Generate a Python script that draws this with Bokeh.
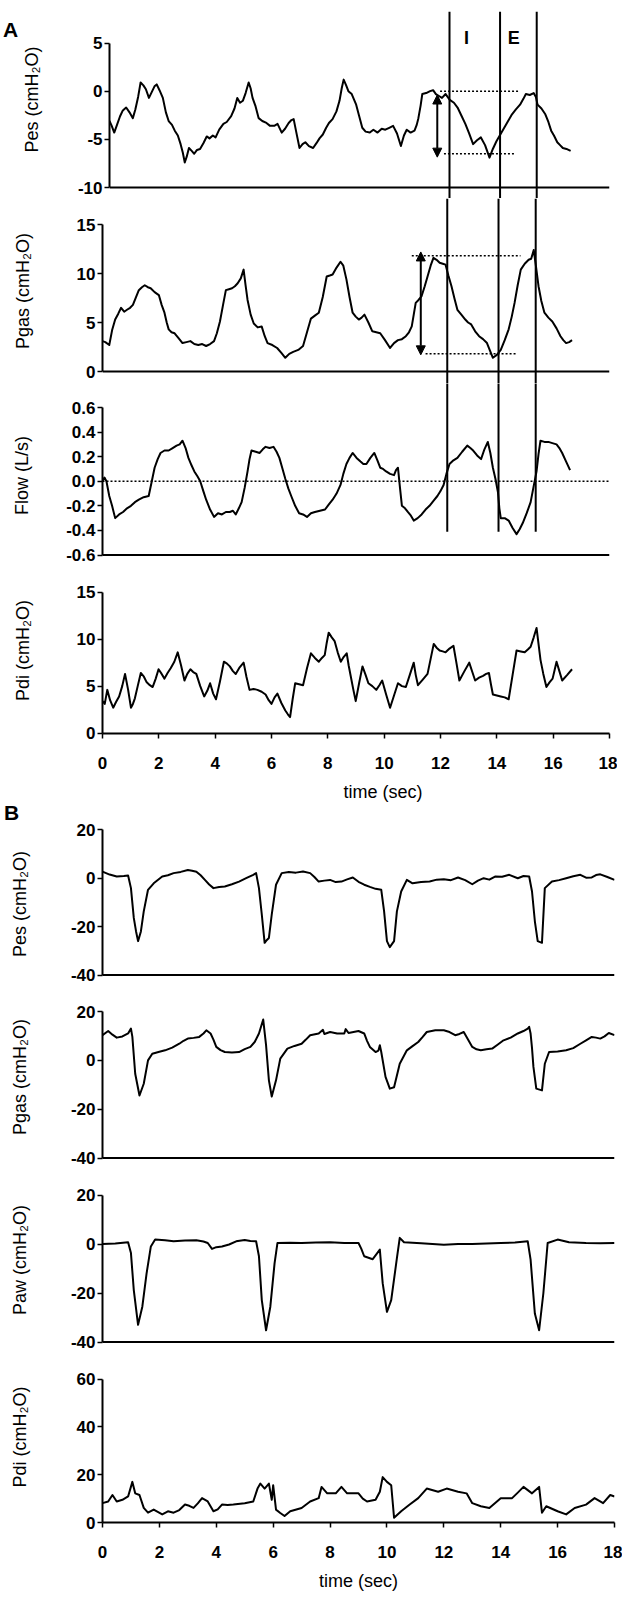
from bokeh.plotting import figure
from bokeh.layouts import column, row
from bokeh.models import Range1d, Span, Arrow, NormalHead, FixedTicker, PrintfTickFormatter, Div, Label
from bokeh.embed import file_html
from bokeh.resources import INLINE

# ---------------- data (time in s, value) ----------------
A_PES = [(0.00,-3.1),(0.08,-3.6),(0.17,-4.3),(0.27,-3.5),(0.38,-2.6),(0.48,-2.0),(0.60,-1.7),(0.72,-2.2),(0.84,-2.8),(0.93,-1.9),(1.03,-0.6),(1.12,0.9),(1.22,0.6),(1.31,0.2),(1.42,-0.7),(1.52,-0.1),(1.62,0.5),(1.70,0.7),(1.80,0.1),(1.92,-0.7),(2.03,-2.2),(2.13,-3.1),(2.25,-3.5),(2.35,-4.1),(2.46,-4.6),(2.56,-5.5),(2.64,-6.4),(2.71,-7.4),(2.78,-6.8),(2.86,-5.9),(2.96,-6.2),(3.05,-6.5),(3.15,-6.1),(3.26,-6.0),(3.38,-5.4),(3.50,-4.7),(3.60,-4.9),(3.72,-4.6),(3.82,-4.8),(3.95,-4.0),(4.10,-3.4),(4.22,-3.2),(4.38,-2.6),(4.50,-1.8),(4.60,-0.7),(4.70,-1.2),(4.80,-1.0),(4.90,-0.2),(5.01,0.9),(5.08,0.3),(5.15,-0.7),(5.25,-1.5),(5.37,-2.8),(5.50,-3.1),(5.65,-3.3),(5.78,-3.6),(5.93,-3.6),(6.05,-3.4),(6.20,-4.3),(6.32,-3.9),(6.45,-3.3),(6.55,-3.0),(6.63,-2.9),(6.72,-4.2),(6.84,-5.9),(6.95,-5.5),(7.05,-5.3),(7.18,-5.7),(7.33,-5.9),(7.45,-5.4),(7.56,-4.9),(7.68,-4.5),(7.80,-3.8),(7.90,-3.3),(8.03,-2.9),(8.17,-2.1),(8.28,-1.0),(8.36,0.3),(8.43,1.2),(8.52,0.6),(8.60,0.0),(8.72,-0.3),(8.88,-1.4),(8.98,-2.5),(9.10,-3.8),(9.22,-4.2),(9.37,-4.3),(9.50,-4.0),(9.65,-4.3),(9.80,-3.9),(9.93,-4.0),(10.07,-3.8),(10.21,-3.6),(10.35,-4.4),(10.49,-5.7),(10.60,-4.6),(10.70,-4.0),(10.84,-4.3),(10.98,-4.1),(11.06,-3.5),(11.12,-2.8),(11.20,-1.5),(11.26,-0.3),(11.40,-0.2),(11.54,0.0),(11.65,0.1),(11.75,-0.3),(11.86,-0.5),(11.97,-0.7),(12.10,-0.3),(12.25,-0.9),(12.40,-1.2),(12.53,-1.7),(12.68,-2.6),(12.81,-3.4),(12.95,-4.4),(13.09,-5.5),(13.23,-5.1),(13.37,-4.8),(13.52,-5.6),(13.68,-6.9),(13.80,-6.0),(13.93,-5.2),(14.07,-4.5),(14.21,-3.8),(14.35,-3.1),(14.49,-2.4),(14.63,-1.9),(14.78,-1.4),(14.90,-0.8),(14.99,-0.3),(15.13,-0.4),(15.27,-0.2),(15.35,-0.6),(15.41,-1.4),(15.55,-1.8),(15.69,-2.4),(15.80,-3.2),(15.90,-4.1),(16.00,-4.6),(16.12,-5.3),(16.22,-5.6),(16.32,-5.9),(16.45,-6.0),(16.60,-6.2)]

A_PGAS = [(0.00,3.1),(0.10,3.0),(0.24,2.7),(0.34,4.2),(0.45,5.3),(0.56,5.9),(0.66,6.5),(0.77,6.1),(0.87,6.3),(0.98,6.5),(1.08,6.8),(1.19,7.6),(1.29,8.3),(1.40,8.6),(1.50,8.8),(1.61,8.6),(1.71,8.5),(1.85,8.1),(2.00,7.8),(2.10,6.8),(2.20,6.0),(2.28,5.0),(2.35,4.3),(2.45,4.0),(2.56,3.9),(2.70,3.4),(2.84,2.9),(2.98,3.0),(3.12,3.1),(3.26,2.8),(3.40,2.7),(3.54,2.8),(3.68,2.6),(3.82,2.8),(3.96,3.1),(4.06,3.9),(4.17,5.1),(4.28,6.8),(4.38,8.3),(4.49,8.4),(4.60,8.5),(4.70,8.7),(4.80,9.0),(4.91,9.5),(5.01,10.4),(5.08,8.8),(5.15,7.3),(5.26,5.8),(5.37,4.9),(5.51,4.5),(5.65,4.6),(5.76,3.6),(5.86,2.9),(6.03,2.7),(6.20,2.4),(6.35,1.9),(6.49,1.4),(6.63,1.8),(6.77,2.0),(6.95,2.2),(7.12,2.6),(7.26,4.0),(7.40,5.4),(7.54,5.7),(7.68,6.0),(7.82,7.6),(7.96,9.7),(8.07,9.8),(8.17,9.9),(8.31,10.6),(8.45,11.2),(8.55,10.8),(8.66,9.4),(8.77,7.6),(8.88,6.0),(8.99,5.6),(9.10,5.3),(9.20,5.5),(9.30,5.8),(9.44,5.0),(9.58,4.1),(9.72,4.0),(9.86,3.9),(10.03,3.2),(10.21,2.4),(10.35,2.9),(10.49,3.2),(10.63,3.3),(10.77,3.6),(10.88,4.0),(10.98,4.6),(11.05,5.8),(11.12,7.0),(11.22,7.3),(11.33,7.7),(11.44,8.7),(11.54,9.7),(11.65,10.8),(11.75,11.6),(11.86,11.4),(11.97,11.1),(12.08,11.0),(12.18,10.9),(12.28,9.8),(12.39,8.7),(12.50,7.4),(12.60,6.3),(12.74,5.8),(12.88,5.3),(12.98,5.0),(13.09,4.8),(13.23,4.1),(13.37,3.6),(13.51,3.3),(13.65,2.9),(13.76,2.1),(13.86,1.4),(14.00,1.7),(14.14,2.2),(14.28,3.2),(14.42,4.3),(14.53,5.6),(14.63,7.0),(14.74,8.8),(14.85,10.4),(14.99,11.0),(15.13,11.4),(15.22,11.5),(15.31,12.4),(15.40,10.5),(15.48,8.7),(15.58,7.2),(15.69,6.0),(15.83,5.5),(15.97,5.1),(16.12,4.4),(16.26,3.6),(16.36,3.2),(16.46,2.9),(16.57,3.0),(16.67,3.2)]

A_FLOW = [(0.00,0.00),(0.07,0.03),(0.14,0.00),(0.24,-0.12),(0.34,-0.20),(0.45,-0.30),(0.59,-0.27),(0.73,-0.25),(0.87,-0.22),(1.01,-0.20),(1.15,-0.17),(1.29,-0.15),(1.46,-0.13),(1.64,-0.12),(1.75,0.00),(1.85,0.11),(1.96,0.18),(2.06,0.23),(2.20,0.25),(2.35,0.25),(2.49,0.27),(2.63,0.29),(2.74,0.30),(2.84,0.33),(2.95,0.27),(3.05,0.19),(3.16,0.13),(3.26,0.08),(3.37,0.04),(3.47,0.00),(3.58,-0.08),(3.68,-0.15),(3.82,-0.23),(3.96,-0.29),(4.10,-0.26),(4.24,-0.27),(4.38,-0.25),(4.52,-0.25),(4.63,-0.24),(4.73,-0.27),(4.84,-0.22),(4.94,-0.17),(5.05,-0.05),(5.15,0.08),(5.22,0.18),(5.29,0.25),(5.44,0.24),(5.58,0.23),(5.69,0.26),(5.79,0.28),(5.93,0.27),(6.07,0.28),(6.18,0.24),(6.28,0.19),(6.38,0.11),(6.49,0.02),(6.60,-0.06),(6.70,-0.12),(6.84,-0.20),(6.98,-0.26),(7.12,-0.27),(7.26,-0.29),(7.40,-0.26),(7.54,-0.25),(7.72,-0.24),(7.90,-0.23),(8.03,-0.19),(8.17,-0.15),(8.31,-0.10),(8.45,-0.03),(8.55,0.06),(8.66,0.14),(8.77,0.19),(8.88,0.23),(9.02,0.19),(9.16,0.16),(9.26,0.14),(9.37,0.14),(9.51,0.19),(9.65,0.23),(9.76,0.17),(9.86,0.11),(9.96,0.10),(10.07,0.08),(10.21,0.06),(10.35,0.05),(10.42,0.09),(10.49,0.11),(10.56,-0.05),(10.63,-0.20),(10.74,-0.22),(10.84,-0.25),(10.95,-0.28),(11.05,-0.32),(11.19,-0.30),(11.33,-0.27),(11.47,-0.23),(11.61,-0.20),(11.75,-0.16),(11.89,-0.12),(12.00,-0.08),(12.11,-0.03),(12.21,0.06),(12.32,0.14),(12.46,0.17),(12.60,0.19),(12.77,0.24),(12.95,0.29),(13.06,0.27),(13.16,0.25),(13.30,0.21),(13.44,0.18),(13.56,0.26),(13.68,0.32),(13.77,0.23),(13.86,0.11),(13.95,0.02),(14.04,-0.09),(14.09,-0.22),(14.14,-0.30),(14.28,-0.30),(14.42,-0.32),(14.56,-0.38),(14.70,-0.43),(14.81,-0.39),(14.92,-0.34),(15.06,-0.26),(15.20,-0.17),(15.30,-0.05),(15.41,0.08),(15.48,0.22),(15.55,0.33),(15.69,0.32),(15.83,0.32),(15.97,0.31),(16.12,0.30),(16.22,0.27),(16.32,0.23),(16.46,0.16),(16.60,0.09)]

A_PDI = [(0.00,3.4),(0.08,3.1),(0.17,4.6),(0.27,3.5),(0.38,2.7),(0.48,3.3),(0.59,3.9),(0.70,5.0),(0.80,6.3),(0.91,4.6),(1.01,2.7),(1.08,3.1),(1.15,3.7),(1.25,5.0),(1.36,6.4),(1.47,6.0),(1.57,5.4),(1.68,5.1),(1.78,4.9),(1.89,5.8),(1.99,6.8),(2.10,6.3),(2.20,5.8),(2.31,6.4),(2.42,6.9),(2.55,7.6),(2.67,8.6),(2.79,7.2),(2.91,5.6),(3.01,6.3),(3.12,6.8),(3.22,6.5),(3.33,6.3),(3.47,5.0),(3.61,3.9),(3.72,4.5),(3.82,5.3),(3.93,4.2),(4.03,3.6),(4.17,5.5),(4.31,7.6),(4.42,7.4),(4.52,7.1),(4.63,6.6),(4.73,6.3),(4.87,7.0),(5.01,7.5),(5.11,6.0),(5.22,4.6),(5.36,4.7),(5.50,4.6),(5.65,4.4),(5.79,4.1),(5.90,3.5),(6.00,3.1),(6.11,3.8),(6.21,4.2),(6.35,3.2),(6.49,2.4),(6.58,2.0),(6.66,1.7),(6.75,3.6),(6.84,5.3),(6.98,5.2),(7.12,5.1),(7.26,6.9),(7.40,8.5),(7.54,8.0),(7.68,7.6),(7.79,8.0),(7.89,8.3),(7.96,9.6),(8.03,10.7),(8.14,10.2),(8.24,9.8),(8.35,8.6),(8.46,7.6),(8.56,8.1),(8.67,8.5),(8.74,7.2),(8.81,6.1),(8.90,4.7),(8.99,3.4),(9.11,5.3),(9.23,7.1),(9.34,6.2),(9.44,5.3),(9.58,5.0),(9.72,4.6),(9.83,5.1),(9.93,5.6),(10.07,4.1),(10.21,2.7),(10.35,4.0),(10.49,5.3),(10.63,5.0),(10.77,4.9),(10.91,6.2),(11.05,7.5),(11.12,6.2),(11.20,5.1),(11.37,5.7),(11.54,6.3),(11.65,7.9),(11.76,9.5),(11.86,9.1),(11.97,8.8),(12.08,8.7),(12.18,8.6),(12.32,9.0),(12.46,9.3),(12.57,7.4),(12.67,5.6),(12.85,6.6),(13.02,7.5),(13.13,6.5),(13.23,5.6),(13.37,5.9),(13.51,6.1),(13.62,6.3),(13.72,6.4),(13.79,5.2),(13.86,4.1),(14.00,4.0),(14.14,3.9),(14.28,3.8),(14.42,3.6),(14.56,6.2),(14.70,8.8),(14.85,8.7),(14.99,8.6),(15.10,8.9),(15.20,9.2),(15.31,10.2),(15.41,11.2),(15.48,9.5),(15.55,7.8),(15.65,6.3),(15.76,4.9),(15.87,5.4),(15.98,5.8),(16.05,6.7),(16.12,7.6),(16.22,6.6),(16.32,5.6),(16.50,6.2),(16.67,6.8)]

B_PES = [(0.00,2.7),(0.25,1.5),(0.50,0.7),(0.75,0.9),(0.90,1.1),(1.00,-4.1),(1.10,-16.4),(1.18,-22.0),(1.25,-26.0),(1.35,-22.0),(1.45,-13.7),(1.60,-4.8),(1.80,-2.1),(2.10,0.7),(2.30,1.2),(2.50,2.1),(2.75,2.6),(3.00,3.4),(3.15,3.1),(3.30,2.7),(3.45,1.2),(3.60,-0.7),(3.75,-2.6),(3.90,-4.1),(4.10,-3.6),(4.30,-3.4),(4.55,-2.5),(4.80,-1.4),(5.05,0.0),(5.30,1.4),(5.40,2.1),(5.50,-4.1),(5.60,-15.0),(5.70,-26.7),(5.78,-25.5),(5.85,-24.7),(5.95,-15.0),(6.10,-2.7),(6.30,2.1),(6.55,2.6),(6.80,2.3),(7.05,2.8),(7.30,2.1),(7.45,0.5),(7.60,-1.4),(7.80,-1.0),(8.00,-0.7),(8.20,-1.6),(8.40,-1.4),(8.60,-0.5),(8.80,0.3),(9.00,-1.5),(9.20,-2.7),(9.40,-3.6),(9.60,-4.4),(9.80,-4.8),(9.90,-13.7),(10.00,-26.0),(10.10,-28.5),(10.25,-26.0),(10.35,-13.7),(10.50,-5.5),(10.70,-0.7),(10.90,-2.1),(11.20,-1.6),(11.50,-1.4),(11.75,-0.6),(12.00,-0.4),(12.25,-0.8),(12.50,0.3),(12.75,-0.8),(13.00,-2.5),(13.20,-1.0),(13.40,0.0),(13.60,-0.6),(13.80,0.7),(14.05,0.6),(14.30,1.4),(14.60,0.0),(14.80,0.9),(15.00,0.7),(15.10,-5.5),(15.20,-17.8),(15.30,-26.0),(15.45,-26.7),(15.55,-4.1),(15.80,-1.4),(16.05,-0.8),(16.30,0.0),(16.55,0.8),(16.80,1.4),(17.00,0.2),(17.20,0.3),(17.35,1.3),(17.50,1.6),(17.75,0.5),(18.00,-0.7)]

B_PGAS = [(0.00,10.3),(0.20,12.0),(0.35,10.5),(0.50,9.3),(0.70,9.8),(0.90,11.0),(1.00,13.0),(1.05,9.6),(1.15,-5.5),(1.30,-14.4),(1.45,-9.6),(1.60,0.0),(1.75,2.7),(2.00,3.5),(2.20,4.1),(2.45,5.2),(2.70,6.8),(2.85,8.0),(3.00,8.9),(3.20,9.2),(3.40,9.6),(3.55,11.0),(3.65,12.3),(3.80,11.0),(3.90,8.5),(4.00,5.5),(4.15,4.2),(4.30,3.4),(4.55,3.2),(4.80,3.4),(5.00,4.6),(5.20,5.5),(5.35,7.5),(5.50,11.0),(5.65,16.7),(5.75,6.2),(5.85,-8.2),(5.95,-14.8),(6.10,-8.2),(6.25,0.7),(6.50,4.8),(6.75,5.9),(7.00,6.8),(7.15,8.5),(7.30,10.3),(7.60,11.0),(7.75,12.5),(7.80,10.8),(8.00,11.6),(8.25,11.0),(8.50,11.0),(8.55,12.8),(8.65,11.2),(9.00,12.0),(9.20,11.0),(9.30,8.0),(9.40,5.5),(9.60,3.4),(9.70,4.0),(9.75,6.2),(9.80,3.4),(9.95,-6.8),(10.10,-11.6),(10.25,-11.0),(10.45,-1.4),(10.70,4.1),(10.90,5.8),(11.10,7.5),(11.25,9.5),(11.40,11.6),(11.70,12.3),(12.00,12.3),(12.20,11.6),(12.40,10.3),(12.55,10.8),(12.70,11.6),(12.85,8.5),(13.00,5.5),(13.15,4.5),(13.30,4.1),(13.50,4.5),(13.70,4.8),(13.90,6.5),(14.10,8.2),(14.35,9.3),(14.60,11.0),(14.80,12.0),(14.95,13.0),(15.00,13.7),(15.05,11.0),(15.10,5.0),(15.15,-2.7),(15.25,-11.6),(15.45,-12.3),(15.55,-1.4),(15.70,3.4),(16.00,3.6),(16.30,4.1),(16.55,5.0),(16.80,6.8),(17.00,8.2),(17.20,9.6),(17.35,9.3),(17.50,8.9),(17.65,9.8),(17.80,11.2),(18.00,10.3)]

B_PAW = [(0.00,0.0),(0.45,0.2),(0.90,0.7),(1.00,-3.7),(1.10,-18.8),(1.25,-33.0),(1.40,-25.6),(1.55,-12.0),(1.70,-1.0),(1.85,1.8),(2.20,1.5),(2.50,1.1),(2.90,1.4),(3.30,1.5),(3.55,1.0),(3.70,0.4),(3.85,-2.0),(4.00,-1.3),(4.20,-1.0),(4.45,-0.2),(4.70,1.1),(5.00,1.6),(5.20,1.2),(5.40,1.1),(5.50,-5.0),(5.60,-22.9),(5.75,-35.2),(5.90,-25.6),(6.05,-7.8),(6.15,0.4),(6.60,0.5),(7.00,0.4),(7.50,0.6),(8.00,0.7),(8.50,0.4),(9.00,0.4),(9.10,-2.0),(9.20,-5.0),(9.50,-6.2),(9.75,-2.3),(9.85,-16.0),(10.00,-27.7),(10.15,-22.9),(10.35,-5.8),(10.45,2.5),(10.60,0.7),(11.20,0.3),(12.00,-0.3),(12.50,0.0),(13.00,0.0),(13.50,0.2),(14.00,0.4),(14.50,0.6),(14.95,1.1),(15.05,-6.4),(15.20,-28.4),(15.35,-35.2),(15.50,-20.0),(15.65,0.4),(16.00,1.8),(16.40,0.7),(17.00,0.4),(17.50,0.3),(18.00,0.4)]

B_PDI = [(0.00,8.1),(0.20,8.8),(0.35,11.5),(0.50,8.8),(0.70,9.5),(0.90,10.9),(1.05,17.0),(1.15,12.2),(1.30,11.5),(1.45,6.1),(1.60,4.1),(1.80,5.4),(2.10,3.4),(2.30,4.7),(2.50,4.1),(2.70,5.2),(2.90,7.5),(3.05,7.0),(3.20,6.1),(3.35,8.0),(3.50,10.2),(3.70,8.8),(3.90,4.7),(4.05,5.5),(4.20,7.5),(4.40,7.3),(4.60,7.5),(5.00,8.1),(5.30,8.8),(5.45,14.2),(5.55,16.3),(5.70,14.2),(5.85,16.3),(5.95,9.5),(6.00,15.6),(6.10,5.4),(6.25,4.0),(6.40,2.7),(6.60,4.7),(7.00,6.1),(7.30,8.8),(7.60,10.2),(7.70,14.9),(7.90,12.2),(8.20,12.2),(8.40,14.9),(8.60,12.2),(9.00,12.2),(9.15,10.0),(9.30,8.8),(9.60,9.5),(9.75,12.9),(9.85,19.0),(10.00,17.0),(10.15,15.6),(10.25,2.0),(10.50,4.7),(10.80,7.5),(11.10,10.2),(11.40,14.2),(11.80,12.9),(12.10,14.2),(12.50,12.9),(12.80,12.2),(13.00,8.1),(13.30,6.8),(13.60,6.1),(14.00,10.2),(14.40,10.2),(14.60,12.5),(14.80,14.9),(15.10,12.2),(15.35,14.9),(15.45,4.1),(15.60,6.8),(16.00,4.7),(16.30,3.4),(16.60,6.1),(17.00,7.5),(17.30,10.2),(17.60,8.1),(17.85,11.5),(18.00,10.9)]

X_TICKS = [0, 2, 4, 6, 8, 10, 12, 14, 16, 18]
IE_TIMES = [12.24, 14.06, 15.38]          # vertical I / E markers (s)
IE_TOP_PES = 8.25                         # top of the markers (Pes units)
IE_BOTTOM_FLOW = -0.41                    # bottom of the markers (Flow units)
PES_LEVELS = [0.0, -6.5]                  # dotted reference levels in Pes
PES_LEVEL_SPANS = [(11.9, 14.77), (12.04, 14.63)]
PES_ARROW = (11.8, -0.4, -6.85)
PGAS_LEVELS = [11.8, 1.8]
PGAS_LEVEL_SPANS = [(10.98, 14.84), (11.47, 14.7)]
PGAS_ARROW = (11.3, 12.2, 1.7)

TICK_FONT = "Liberation Sans"
LABEL_FONT = "Liberation Sans"
TIME_LABEL = "time (sec)"
TIME_LABEL_A = "\u2002" * 6 + TIME_LABEL   # panel A's label sits right of centre


def panel(label, pts, lo, hi, ticks, fmt, py_hi, py_lo, f_top, f_bot, f_left, f_width,
          standoff, xaxis=False, bottom=0, xlabel=TIME_LABEL, xlabel_standoff=10, lead=0):
    s = (py_lo - py_hi) / (hi - lo)
    y0 = lo - (f_bot - py_lo) / s
    y1 = hi + (py_hi - f_top) / s
    left = int(round(f_left)) - lead
    right = 8
    p = figure(width=left + f_width + right, height=(f_bot - f_top) + bottom,
               x_range=Range1d(0, 18), y_range=Range1d(y0, y1),
               output_backend="svg", toolbar_location=None, title=None,
               x_axis_location="below" if xaxis else None,
               min_border_left=left, min_border_right=right,
               min_border_top=0, min_border_bottom=bottom)
    p.grid.visible = False
    p.outline_line_color = None
    ya = p.yaxis[0]
    ya.ticker = FixedTicker(ticks=ticks)
    ya.formatter = PrintfTickFormatter(format=fmt)
    ya.bounds = (lo, hi)
    ya.axis_line_width = 2
    ya.axis_line_color = "black"
    ya.major_tick_out = 5
    ya.major_tick_in = 0
    ya.major_tick_line_width = 1.5
    ya.minor_tick_line_color = None
    ya.major_label_text_font = TICK_FONT
    ya.major_label_text_font_size = "17px"
    ya.major_label_text_font_style = "bold"
    ya.major_label_text_color = "black"
    ya.major_label_standoff = 2
    ya.axis_label = label
    ya.axis_label_text_font = LABEL_FONT
    ya.axis_label_text_font_size = "18px"
    ya.axis_label_text_font_style = "normal"
    ya.axis_label_text_color = "black"
    ya.axis_label_standoff = standoff
    if xaxis:
        xa = p.xaxis[0]
        xa.ticker = FixedTicker(ticks=X_TICKS)
        xa.formatter = PrintfTickFormatter(format="%d")
        xa.bounds = (0, 18)
        xa.axis_line_width = 2
        xa.major_tick_out = 5
        xa.major_tick_in = 0
        xa.major_tick_line_width = 1.5
        xa.minor_tick_line_color = None
        xa.major_label_text_font = TICK_FONT
        xa.major_label_text_font_size = "17px"
        xa.major_label_text_font_style = "bold"
        xa.major_label_text_color = "black"
        xa.major_label_standoff = 18
        xa.axis_label = xlabel
        xa.axis_label_text_font = LABEL_FONT
        xa.axis_label_text_font_size = "18px"
        xa.axis_label_text_font_style = "normal"
        xa.axis_label_text_color = "black"
        xa.axis_label_standoff = xlabel_standoff
    else:
        p.add_layout(Span(location=lo, dimension="width", line_color="black", line_width=2))
    p.line([t for t, v in pts], [v for t, v in pts], line_color="black", line_width=2,
           line_join="round")
    return p


A_LEFT, A_W = 95, 514
B_LEFT, B_W = 102, 512
LEAD = 18   # width of the column that holds the letter "A"

a1 = panel("Pes (cmH\u2082O)", A_PES, -10, 5, [-10, -5, 0, 5], "%d", 42.5, 187.0, 0, 198, A_LEFT, A_W, 33, lead=LEAD)
a2 = panel("Pgas (cmH\u2082O)", A_PGAS, 0, 15, [0, 5, 10, 15], "%d", 224.0, 371.0, 198, 383, A_LEFT, A_W, 41)
a3 = panel("Flow (L/s)", A_FLOW, -0.6, 0.6, [-0.6, -0.4, -0.2, 0.0, 0.2, 0.4, 0.6], "%.1f",
           407.0, 554.5, 383, 567, A_LEFT, A_W, 31)
a4 = panel("Pdi (cmH\u2082O)", A_PDI, 0, 15, [0, 5, 10, 15], "%d", 593.0, 740.5, 567, 741, A_LEFT, A_W,
           41, xaxis=True, bottom=63, xlabel=TIME_LABEL_A, xlabel_standoff=10)

b1 = panel("Pes (cmH\u2082O)", B_PES, -40, 20, [-40, -20, 0, 20], "%d", 829.3, 974.5, 822, 985, B_LEFT, B_W, 38)
b2 = panel("Pgas (cmH\u2082O)", B_PGAS, -40, 20, [-40, -20, 0, 20], "%d", 1011.0, 1157.5, 985, 1168, B_LEFT, B_W, 38)
b3 = panel("Paw (cmH\u2082O)", B_PAW, -40, 20, [-40, -20, 0, 20], "%d", 1194.5, 1341.5, 1168, 1351, B_LEFT, B_W, 38)
b4 = panel("Pdi (cmH\u2082O)", B_PDI, 0, 60, [0, 20, 40, 60], "%d", 1379.5, 1527.0, 1351, 1527, B_LEFT, B_W,
           44, xaxis=True, bottom=66, xlabel_standoff=10)

# ---- annotations of panel A ----
for x in IE_TIMES:
    a1.segment(x0=x, y0=IE_TOP_PES, x1=x, y1=-30, line_color="black", line_width=2)
    a2.add_layout(Span(location=x, dimension="height", line_color="black", line_width=2))
    a3.segment(x0=x, y0=2.0, x1=x, y1=IE_BOTTOM_FLOW, line_color="black", line_width=2)

for lvl, (xs, xe) in zip(PES_LEVELS, PES_LEVEL_SPANS):
    a1.segment(x0=xs, y0=lvl, x1=xe, y1=lvl, line_color="black", line_width=1.5, line_dash="2 2")
for lvl, (xs, xe) in zip(PGAS_LEVELS, PGAS_LEVEL_SPANS):
    a2.segment(x0=xs, y0=lvl, x1=xe, y1=lvl, line_color="black", line_width=1.5, line_dash="2 2")

for fig, (ax, ys, ye) in ((a1, PES_ARROW), (a2, PGAS_ARROW)):
    fig.add_layout(Arrow(start=NormalHead(size=9, fill_color="black", line_color="black"),
                         end=NormalHead(size=9, fill_color="black", line_color="black"),
                         x_start=ax, y_start=ys, x_end=ax, y_end=ye,
                         line_color="black", line_width=2))

a3.add_layout(Span(location=0.0, dimension="width", line_color="black", line_width=1.5, line_dash="2 2"))

for txt, x in (("I", 12.85), ("E", 14.55)):
    a1.add_layout(Label(x=x, y=5.47, text=txt, text_align="center", text_baseline="alphabetic",
                        text_font=LABEL_FONT, text_font_size="18px", text_font_style="bold",
                        text_color="black"))


def letter(txt, width, height, top_pad, left_pad, line_h):
    html = ('<div style="font-family: \'Liberation Sans\'; font-size: 21px; font-weight: bold; '
            'color: black; line-height: %dpx; padding: %dpx 0 0 %dpx; margin: 0;">%s</div>'
            % (line_h, top_pad, left_pad, txt))
    return Div(text=html, width=width, height=height, margin=0)


rows = [row(letter("A", LEAD, 198, 19, 3, 21), a1, spacing=0), a2, a3, a4,
        letter("B", 60, 18, 0, 4, 18), b1, b2, b3, b4]
layout = column(*rows, spacing=0)
open("out.html", "w").write(file_html(layout, INLINE))
